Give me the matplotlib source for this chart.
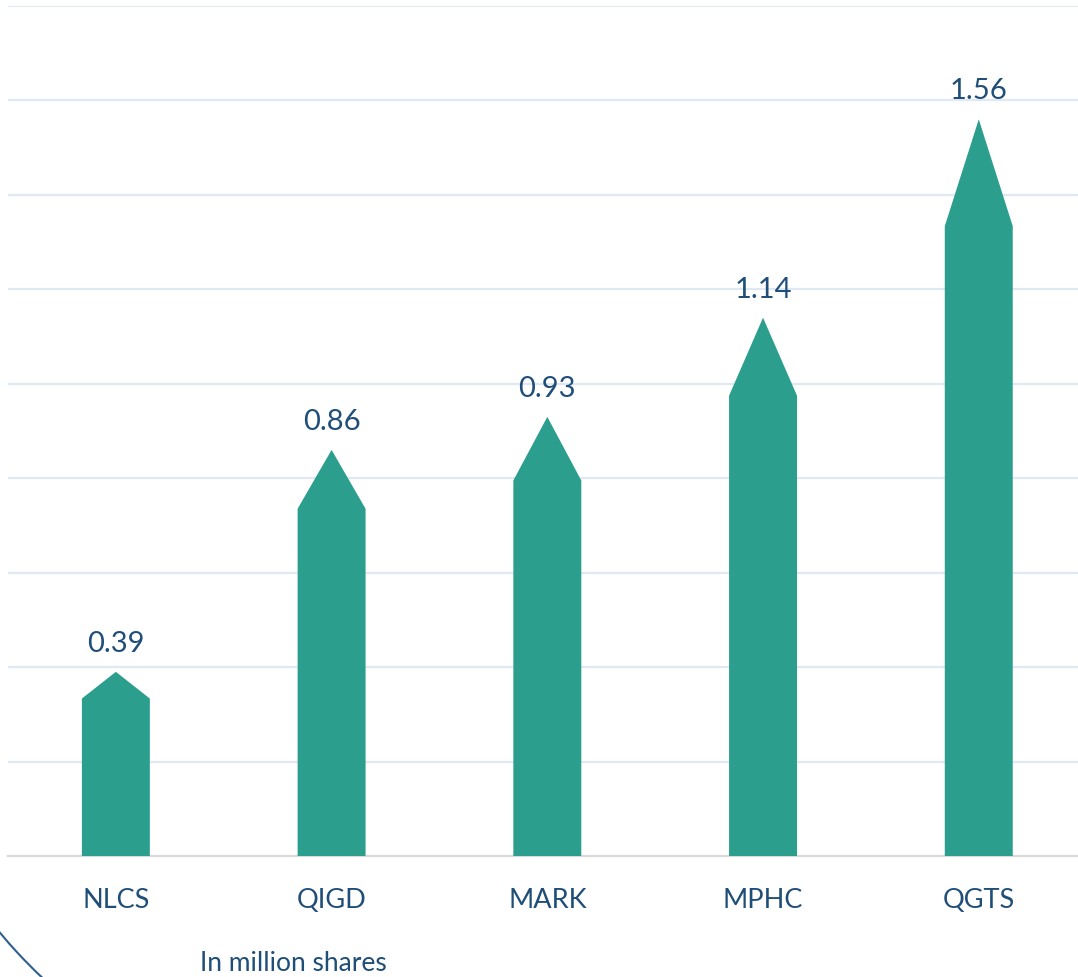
import matplotlib
matplotlib.use('Agg')
import matplotlib.pyplot as plt
from matplotlib.patches import Arc

# Data
tickers = ['NLCS', 'QIGD', 'MARK', 'MPHC', 'QGTS']
volumes = [0.39, 0.86, 0.93, 1.14, 1.56]  # in million shares

bar_color = '#2b9e8e'
text_color = '#1f4e79'
grid_color = '#dfe8f3'

plt.rcParams['font.family'] = ['Lato', 'DejaVu Sans']

fig = plt.figure(figsize=(10.78, 9.78), dpi=100)
ax = fig.add_axes([8 / 1078, 1 - 857 / 978, 1070 / 1078, 850 / 978])

width = 0.315
head = 0.145  # arrow head takes this share of the bar height
for i, v in enumerate(volumes):
    left, right = i - width / 2, i + width / 2
    shoulder = v * (1 - head)
    ax.fill([left, left, i, right, right], [0, shoulder, v, shoulder, 0],
            color=bar_color, lw=0, zorder=3)
    ax.annotate(f'{v:.2f}', (i, v), xytext=(0, 11.5), textcoords='offset points',
                ha='center', va='bottom', fontsize=21, color=text_color)

ax.set_xlim(-0.5, 4.46)
ax.set_ylim(0, 1.8)
ax.set_yticks([0.2 * k for k in range(1, 10)])
ax.yaxis.grid(True, color=grid_color, lw=1.6)
ax.set_axisbelow(True)
ax.tick_params(axis='y', left=False, labelleft=False)
ax.set_xticks(range(len(tickers)))
ax.set_xticklabels(tickers, fontsize=19.5, color=text_color)
ax.tick_params(axis='x', length=0, pad=22)
for s in ['top', 'right', 'left']:
    ax.spines[s].set_visible(False)
ax.spines['bottom'].set_color('#d9d9d9')
ax.spines['bottom'].set_linewidth(1.6)

fig.text(200 / 1078, 1 - 964 / 978, 'In million shares', fontsize=19,
         color=text_color, ha='left', va='center')

# decorative arc in the lower left corner
arc = Arc((4.0, 3.78), 10.42, 10.42, theta1=205, theta2=240,
          transform=fig.dpi_scale_trans, edgecolor='#2f5f8f', lw=1.5)
fig.add_artist(arc)

fig.savefig('out.png', dpi=100)
